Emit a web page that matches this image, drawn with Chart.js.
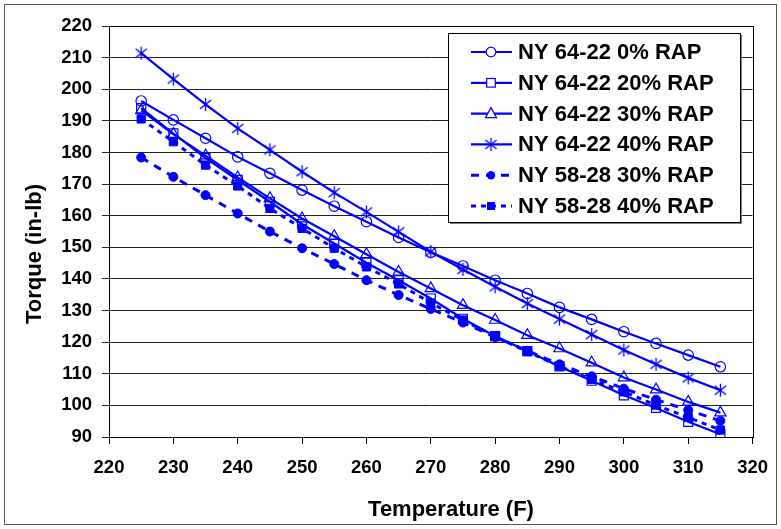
<!DOCTYPE html>
<html>
<head>
<meta charset="utf-8">
<script src="https://cdn.jsdelivr.net/npm/chart.js@4.4.0/dist/chart.umd.min.js"></script>
<style>
  html, body { margin: 0; padding: 0; background: #fff; }
</style>
</head>
<body>
<canvas id="myChart" width="781" height="529"></canvas>
<script>

const temps = [225, 230, 235, 240, 245, 250, 255, 260, 265, 270, 275, 280, 285, 290, 295, 300, 305, 310, 315];

const ny6422_0 = [196.3, 190.3, 184.5, 178.6, 173.4, 168.1, 163.0, 158.1, 153.1, 148.4, 144.1, 139.6, 135.4, 131.0, 127.2, 123.3, 119.6, 115.9, 112.2];
const ny6422_20 = [194.0, 186.0, 178.2, 171.3, 164.4, 157.3, 151.2, 145.1, 139.6, 133.8, 127.4, 121.9, 117.2, 112.3, 107.8, 103.2, 99.2, 94.8, 90.9];
const ny6422_30 = [193.3, 185.8, 179.0, 172.1, 165.5, 159.1, 153.5, 147.8, 142.2, 137.0, 131.7, 127.0, 122.2, 118.0, 113.5, 108.8, 105.0, 101.1, 97.7];
const ny6422_40 = [211.4, 203.2, 195.2, 187.6, 180.8, 173.9, 167.3, 161.2, 154.9, 148.6, 143.0, 137.5, 132.2, 127.3, 122.4, 117.5, 113.0, 108.7, 104.8];
const ny5828_30 = [178.4, 172.3, 166.5, 160.7, 155.0, 149.7, 144.7, 139.6, 134.9, 130.5, 126.2, 121.6, 117.3, 113.0, 109.2, 105.3, 101.8, 98.5, 95.1];
const ny5828_40 = [190.6, 183.4, 176.0, 169.4, 162.3, 156.0, 149.7, 143.8, 138.4, 132.4, 127.0, 121.8, 117.0, 112.4, 108.2, 104.3, 100.1, 96.2, 92.2];

const seriesNames = ['NY 64-22 0% RAP', 'NY 64-22 20% RAP', 'NY 64-22 30% RAP', 'NY 64-22 40% RAP', 'NY 58-28 30% RAP', 'NY 58-28 40% RAP'];

const xTicks = [220, 230, 240, 250, 260, 270, 280, 290, 300, 310, 320];
const yTicks = [90, 100, 110, 120, 130, 140, 150, 160, 170, 180, 190, 200, 210, 220];

const blue = 'rgb(0, 0, 255)';
const font = "'Liberation Sans', Arial, sans-serif";

// asterisk marker (vertical line + X) like the spreadsheet one
function makeStar(size) {
  const c = document.createElement('canvas');
  c.width = size; c.height = size;
  const g = c.getContext('2d');
  const m = size / 2, r = size / 2 - 1;
  g.strokeStyle = blue;
  g.lineWidth = 1.3;
  g.beginPath();
  g.moveTo(m, m - r); g.lineTo(m, m + r);
  g.moveTo(m - r * 0.87, m - r * 0.7); g.lineTo(m + r * 0.87, m + r * 0.7);
  g.moveTo(m - r * 0.87, m + r * 0.7); g.lineTo(m + r * 0.87, m - r * 0.7);
  g.stroke();
  return c;
}
const starImg = makeStar(15);

function pts(values) {
  return temps.map((t, i) => ({ x: t, y: values[i] }));
}

const data = {
  datasets: [{
    label: seriesNames[0],
    data: pts(ny6422_0),
    borderColor: blue,
    backgroundColor: 'rgba(0,0,0,0)',
    borderWidth: 2.2,
    pointStyle: 'circle',
    pointRadius: 5.2,
    pointBorderWidth: 1.2,
    pointBorderColor: blue
  }, {
    label: seriesNames[1],
    data: pts(ny6422_20),
    borderColor: blue,
    backgroundColor: 'rgba(0,0,0,0)',
    borderWidth: 2.2,
    pointStyle: 'rect',
    pointRadius: 6.4,
    pointBorderWidth: 1.2,
    pointBorderColor: blue
  }, {
    label: seriesNames[2],
    data: pts(ny6422_30),
    borderColor: blue,
    backgroundColor: 'rgba(0,0,0,0)',
    borderWidth: 2.2,
    pointStyle: 'triangle',
    pointRadius: 6.5,
    pointBorderWidth: 1.2,
    pointBorderColor: blue
  }, {
    label: seriesNames[3],
    data: pts(ny6422_40),
    borderColor: blue,
    backgroundColor: 'rgba(0,0,0,0)',
    borderWidth: 2.2,
    pointStyle: starImg,
    pointRadius: 7
  }, {
    label: seriesNames[4],
    data: pts(ny5828_30),
    borderColor: blue,
    backgroundColor: blue,
    borderWidth: 3,
    borderDash: [8, 7],
    pointStyle: 'circle',
    pointRadius: 4.5,
    pointBorderWidth: 1,
    pointBackgroundColor: blue,
    pointBorderColor: blue
  }, {
    label: seriesNames[5],
    data: pts(ny5828_40),
    borderColor: blue,
    backgroundColor: blue,
    borderWidth: 3,
    borderDash: [5, 5],
    pointStyle: 'rect',
    pointRadius: 5.8,
    pointBorderWidth: 1,
    pointBackgroundColor: blue,
    pointBorderColor: blue
  }]
};

// draw one legend symbol
function marker(ctx, ds, x, y) {
  ctx.save();
  ctx.setLineDash([]);
  ctx.strokeStyle = blue;
  ctx.fillStyle = blue;
  ctx.lineWidth = 1.2;
  const filled = ds.pointBackgroundColor === blue;
  if (ds.pointStyle === starImg) {
    ctx.drawImage(starImg, x - 7.5, y - 7.5);
  } else if (ds.pointStyle === 'circle') {
    ctx.beginPath();
    ctx.arc(x, y, filled ? 4.2 : 4.8, 0, Math.PI * 2);
    if (filled) ctx.fill(); else { ctx.fillStyle = '#fff'; ctx.fill(); ctx.stroke(); }
  } else if (ds.pointStyle === 'rect') {
    const s = filled ? 4 : 4.3;
    if (filled) ctx.fillRect(x - s, y - s, 2 * s, 2 * s);
    else { ctx.fillStyle = '#fff'; ctx.fillRect(x - s, y - s, 2 * s, 2 * s); ctx.strokeRect(x - s, y - s, 2 * s, 2 * s); }
  } else if (ds.pointStyle === 'triangle') {
    ctx.beginPath();
    ctx.moveTo(x, y - 6); ctx.lineTo(x + 5.5, y + 4); ctx.lineTo(x - 5.5, y + 4); ctx.closePath();
    ctx.fillStyle = '#fff'; ctx.fill(); ctx.stroke();
  }
  ctx.restore();
}

const framePlugin = {
  id: 'frame',
  beforeDraw(chart) {
    const ctx = chart.ctx;
    ctx.save();
    ctx.fillStyle = '#fff';
    ctx.fillRect(0, 0, chart.width, chart.height);
    ctx.strokeStyle = '#555';
    ctx.lineWidth = 1;
    ctx.strokeRect(4.5, 4.5, chart.width - 9, chart.height - 9);
    ctx.restore();
  },
  afterDraw(chart) {
    const ctx = chart.ctx;
    const a = chart.chartArea;
    ctx.save();
    // plot area box
    ctx.strokeStyle = '#000';
    ctx.lineWidth = 1;
    ctx.strokeRect(Math.round(a.left) + 0.5, Math.round(a.top) + 0.5, Math.round(a.right - a.left), Math.round(a.bottom - a.top));

    // axis titles
    ctx.fillStyle = '#000';
    ctx.font = 'bold 22px ' + font;
    ctx.textAlign = 'center';
    ctx.textBaseline = 'middle';
    ctx.fillText('Temperature (F)', 451, 510);
    ctx.translate(35, 254);
    ctx.rotate(-Math.PI / 2);
    ctx.fillText('Torque (in-lb)', 0, 0);
    ctx.restore();

    // legend box
    ctx.save();
    const lx = 448, ly = 33, lw = 292, lh = 189;
    ctx.fillStyle = '#808080';
    ctx.fillRect(lx + 2, ly + 2, lw, lh);
    ctx.fillStyle = '#fff';
    ctx.fillRect(lx, ly, lw, lh);
    ctx.strokeStyle = '#000';
    ctx.lineWidth = 1;
    ctx.strokeRect(lx + 0.5, ly + 0.5, lw, lh);
    ctx.font = 'bold 22px ' + font;
    ctx.textAlign = 'left';
    ctx.textBaseline = 'middle';
    chart.data.datasets.forEach((ds, i) => {
      const y = 52 + i * 30.8;
      ctx.strokeStyle = blue;
      ctx.lineWidth = ds.borderWidth;
      ctx.setLineDash(ds.borderDash || []);
      ctx.beginPath();
      ctx.moveTo(471, y); ctx.lineTo(512, y);
      ctx.stroke();
      ctx.setLineDash([]);
      marker(ctx, ds, 491, y);
      ctx.fillStyle = '#000';
      ctx.fillText(ds.label, 518, y + 1);
    });
    ctx.restore();
  }
};

const config = {
  type: 'line',
  data: data,
  options: {
    responsive: false,
    animation: false,
    devicePixelRatio: 1,
    layout: { padding: { left: 0, right: 24, top: 26, bottom: 0 } },
    plugins: {
      legend: { display: false },
      tooltip: { enabled: false }
    },
    scales: {
      x: {
        type: 'linear',
        min: xTicks[0],
        max: xTicks[xTicks.length - 1],
        afterBuildTicks: (s) => { s.ticks = xTicks.map(v => ({ value: v })); },
        afterFit: (s) => { s.height = 92; },
        grid: { drawOnChartArea: false, drawTicks: true, tickLength: 7, color: '#000' },
        border: { display: true, color: '#000', width: 1 },
        ticks: { color: '#000', padding: 13, maxRotation: 0, font: { family: font, size: 18.5, weight: 'bold' } }
      },
      y: {
        type: 'linear',
        min: yTicks[0],
        max: yTicks[yTicks.length - 1],
        afterBuildTicks: (s) => { s.ticks = yTicks.map(v => ({ value: v })); },
        afterFit: (s) => { s.width = 109; },
        grid: { color: '#222', lineWidth: 1, drawTicks: true, tickLength: 7 },
        border: { display: true, color: '#000', width: 1 },
        ticks: { color: '#000', padding: 10, font: { family: font, size: 18.5, weight: 'bold' } }
      }
    }
  },
  plugins: [framePlugin]
};

myChart = new Chart(
  document.getElementById('myChart'),
  config
);
</script>
</body>
</html>
